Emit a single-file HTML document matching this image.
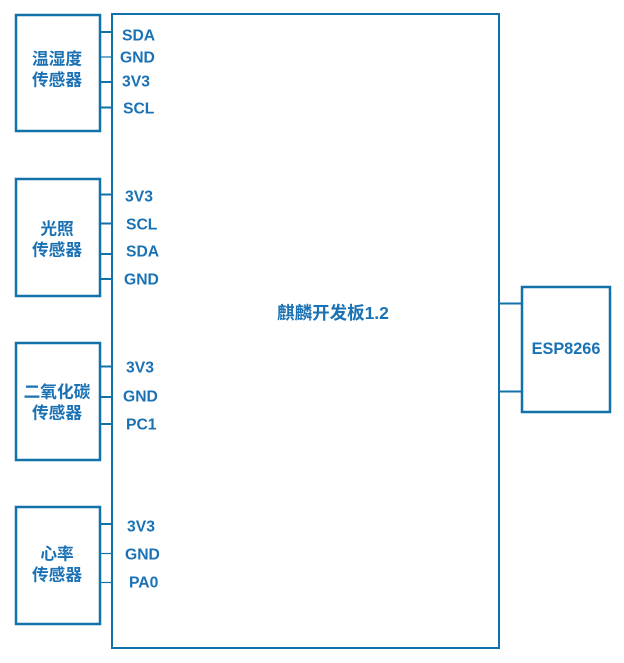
<!DOCTYPE html>
<html><head><meta charset="utf-8"><style>
html,body{margin:0;padding:0;background:#fff;width:624px;height:663px;overflow:hidden}
svg{display:block}
.l{font-family:"Liberation Sans","Noto Sans CJK SC",sans-serif;font-weight:bold;font-size:15.7px;fill:#1a72b4}
.c{font-family:"Liberation Sans","Noto Sans CJK SC",sans-serif;font-weight:bold;font-size:16.7px;fill:#1a72b4}
</style></head><body>
<svg width="624" height="663" viewBox="0 0 624 663" xmlns="http://www.w3.org/2000/svg">
<g fill="none" stroke="#1171a9">
<rect x="112" y="14" width="387" height="634" stroke-width="2"/>
<rect x="16" y="15" width="84" height="116" stroke-width="2.5"/>
<rect x="16" y="179" width="84" height="117" stroke-width="2.5"/>
<rect x="16" y="343" width="84" height="117" stroke-width="2.5"/>
<rect x="16" y="507" width="84" height="117" stroke-width="2.5"/>
<rect x="522" y="287" width="88" height="125" stroke-width="2.5"/>
<g stroke-width="2">
<line x1="100" y1="32" x2="112" y2="32"/>
<line x1="100" y1="57" x2="112" y2="57" stroke-width="1.2"/>
<line x1="100" y1="82" x2="112" y2="82"/>
<line x1="100" y1="107.5" x2="112" y2="107.5"/>
<line x1="100" y1="194.5" x2="112" y2="194.5"/>
<line x1="100" y1="223.5" x2="112" y2="223.5"/>
<line x1="100" y1="254" x2="112" y2="254"/>
<line x1="100" y1="279" x2="112" y2="279"/>
<line x1="100" y1="366.5" x2="112" y2="366.5"/>
<line x1="100" y1="397" x2="112" y2="397"/>
<line x1="100" y1="424" x2="112" y2="424"/>
<line x1="100" y1="524" x2="112" y2="524"/>
<line x1="100" y1="553.5" x2="112" y2="553.5" stroke-width="1.2"/>
<line x1="100" y1="582.5" x2="112" y2="582.5" stroke-width="1.2"/>
<line x1="499" y1="303.5" x2="522" y2="303.5"/>
<line x1="499" y1="391.5" x2="522" y2="391.5"/>
</g>
</g>
<g class="l" dominant-baseline="central">
<text x="122" y="36">SDA</text>
<text x="120" y="58">GND</text>
<text x="122" y="82">3V3</text>
<text x="123" y="109">SCL</text>
<text x="125" y="197">3V3</text>
<text x="126" y="225">SCL</text>
<text x="126" y="252">SDA</text>
<text x="124" y="280">GND</text>
<text x="126" y="368">3V3</text>
<text x="123" y="397">GND</text>
<text x="126" y="425">PC1</text>
<text x="127" y="527">3V3</text>
<text x="125" y="555">GND</text>
<text x="129" y="583">PA0</text>
<text x="566" y="349" text-anchor="middle" style="font-size:16.3px">ESP8266</text>
</g>
<g class="c" dominant-baseline="central" text-anchor="middle">
<text x="57" y="59">温湿度</text>
<text x="57" y="80">传感器</text>
<text x="57" y="229">光照</text>
<text x="57" y="250">传感器</text>
<text x="57" y="392">二氧化碳</text>
<text x="57" y="413">传感器</text>
<text x="57" y="554">心率</text>
<text x="57" y="575">传感器</text>
<text x="333" y="313" style="font-size:17.5px">麒麟开发板1.2</text>
</g>
</svg>
</body></html>
